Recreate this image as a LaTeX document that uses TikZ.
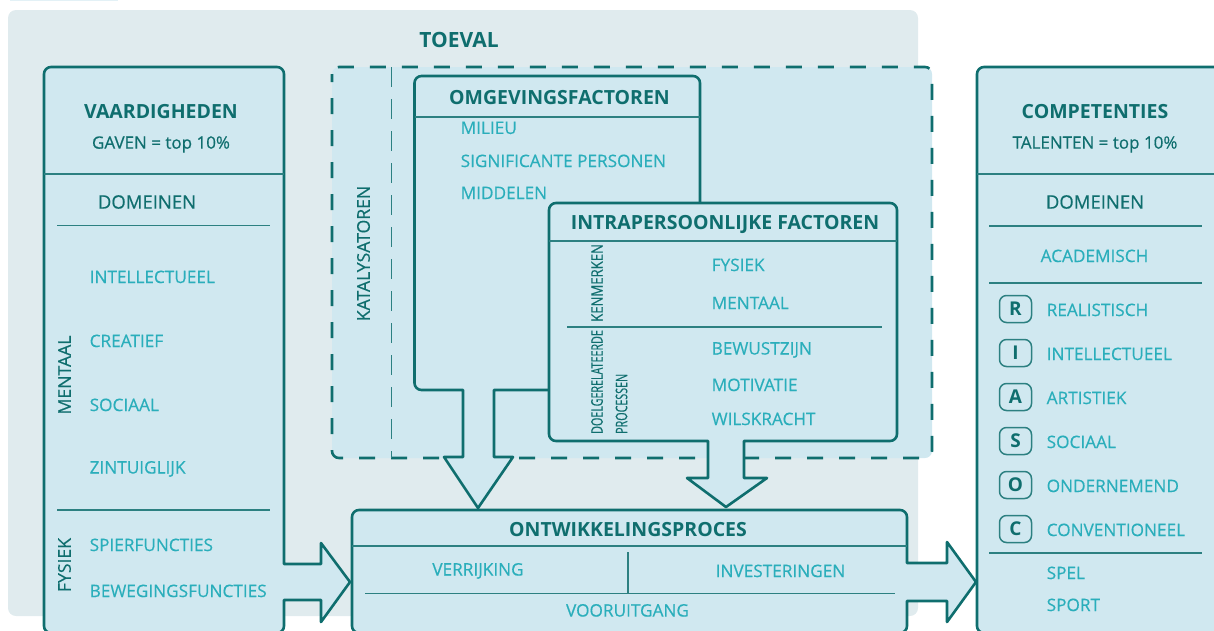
\documentclass[tikz,border=0pt]{standalone}
\usepackage{fontspec}
\setmainfont{Open Sans}
\newfontfamily\medf[FakeBold=0.4]{Open Sans}
\definecolor{bggrey}{HTML}{E0EBEE}
\definecolor{panel}{HTML}{D0E8F0}
\definecolor{dark}{HTML}{0F6E6E}
\definecolor{lite}{HTML}{2AAEBB}
\tikzset{
  box/.style={draw=dark,line width=2.6pt,fill=panel,line join=round},
  rc/.style={rounded corners=7pt},
  rule/.style={draw=dark!85!panel,line width=1.4pt},
  hd/.style={text=dark,font=\bfseries\fontsize{19.5}{22}\selectfont,inner sep=0pt,anchor=center,yshift=-1pt},
  sub/.style={text=dark,font=\medf\fontsize{17}{20}\selectfont,inner sep=0pt,anchor=center,yshift=-0.5pt},
  dom/.style={text=dark,font=\medf\fontsize{18.5}{20}\selectfont,inner sep=0pt,anchor=center},
  item/.style={text=lite,font=\medf\fontsize{17.2}{20}\selectfont,inner sep=0pt,anchor=west,yshift=0.6pt,xshift=-0.5pt},
  vert/.style={text=dark,font=\medf\fontsize{17.6}{20}\selectfont,inner sep=0pt,rotate=90,anchor=center},
  vertw/.style={text=dark,font=\medf\fontsize{16}{18}\selectfont,inner sep=0pt,rotate=90,anchor=west},
  badge/.style={draw=dark!85!panel,line width=1.5pt,rounded corners=7pt,minimum width=32pt,minimum height=27pt,inner sep=0pt,text=dark,font=\bfseries\fontsize{19}{20}\selectfont,anchor=center},
}
\begin{document}
\begin{tikzpicture}[x=1pt,y=-1pt]
\useasboundingbox (0,0) rectangle (1214,630);
\clip (0,0) rectangle (1214,630);
% background
\fill[panel!60!white] (10,-3) rectangle (118,1);
\fill[bggrey,rounded corners=8pt] (8,10) rectangle (918,616);
\node[hd,font=\bfseries\fontsize{21}{24}\selectfont] (toeval) at (459,38.5) {TOEVAL};
% catalyst region
\fill[panel,rounded corners=7pt] (332,67) rectangle (932,458);
\draw[dark,line width=2.6pt,dash pattern=on 16pt off 16pt,dash phase=8pt,rounded corners=7pt] (332,67) rectangle (932,458);
\draw[dark!85!panel,line width=1.2pt,dash pattern=on 20pt off 12pt] (391.5,67) -- (391.5,458);
\node[vert] (katal) at (363.5,253.5) {KATALYSATOREN};
% left box
\draw[box] (284,564) -- (321,564) -- (321,543) -- (350,582) -- (321,622) -- (321,600) -- (284,600) [rc] -- (284,633) -- (44,633) -- (44,67) -- (284,67) [sharp corners] -- cycle;
\draw[rule] (44,174) -- (284,174);
\draw[rule] (57,225.5) -- (270,225.5);
\draw[rule] (57,510) -- (270,510);
\node[hd] (vaard) at (161,111) {VAARDIGHEDEN};
\node[sub] (gaven) at (161,144) {GAVEN = top 10\%};
\node[dom] (domL) at (147,202) {DOMEINEN};
\node[item] (li1) at (90,277.5) {INTELLECTUEEL};
\node[item] (li2) at (90,341.5) {CREATIEF};
\node[item] (li3) at (90,405.5) {SOCIAAL};
\node[item] (li4) at (90,469.5) {ZINTUIGLIJK};
\node[item] (li5) at (90,545.5) {SPIERFUNCTIES};
\node[item] (li6) at (90,591.5) {BEWEGINGSFUNCTIES};
\node[vert] (mentaalL) at (64.5,375) {MENTAAL};
\node[vert] (fysiekL) at (64.5,565) {FYSIEK};
% omgevingsfactoren
\draw[box] (700,210) [rc] -- (700,76) -- (414.5,76) -- (414.5,390) [sharp corners] -- (463,390) -- (463,457) -- (444,457) -- (478,508) -- (513,457) -- (494,457) -- (494,390) -- (560,390);
\draw[rule] (414.5,117) -- (700,117);
\node[hd] (omg) at (559.5,97) {OMGEVINGSFACTOREN};
\node[item] (om1) at (461,128.5) {MILIEU};
\node[item] (om2) at (461,161.5) {SIGNIFICANTE PERSONEN};
\node[item] (om3) at (461,193.5) {MIDDELEN};
% intrapersoonlijk
\draw[box] (708,441) -- (708,478) -- (687,478) -- (726,507) -- (767,478) -- (744,478) -- (744,441) [rc] -- (897,441) -- (897,203) -- (549,203) -- (549,441) [sharp corners] -- cycle;
\draw[rule] (549,241) -- (897,241);
\draw[rule] (567,327) -- (882,327);
\node[hd] (intra) at (725,223) {INTRAPERSOONLIJKE FACTOREN};
\node[item] (in1) at (712,265.5) {FYSIEK};
\node[item] (in2) at (712,303.5) {MENTAAL};
\node[item] (in3) at (712,350.5) {BEWUSTZIJN};
\node[item] (in4) at (712,385.5) {MOTIVATIE};
\node[item] (in5) at (712,419.5) {WILSKRACHT};
\node[vertw] (ken) at (597,322) {\scalebox{0.82}[1]{KENMERKEN}};
\node[vertw] (doel) at (597,434) {\scalebox{0.67}[1]{DOELGERELATEERDE}};
\node[vertw] (proc) at (621.5,434) {\scalebox{0.67}[1]{PROCESSEN}};
% ontwikkelingsproces
\draw[box] (907,563) -- (947,563) -- (947,542) -- (976,582) -- (947,622) -- (947,601) -- (907,601) [rc] -- (907,633) -- (352,633) -- (352,510) -- (907,510) [sharp corners] -- cycle;
\draw[rule] (352,546) -- (907,546);
\draw[rule] (628,552) -- (628,593.5);
\draw[rule] (365,593.5) -- (895,593.5);
\node[hd] (ontw) at (628,529) {ONTWIKKELINGSPROCES};
\node[item,anchor=center] (verr) at (478.5,571.5) {VERRIJKING};
\node[item,anchor=center] (inv) at (781,571.5) {INVESTERINGEN};
\node[item,anchor=center] (voor) at (628,611) {VOORUITGANG};
% right box
\draw[box,rc] (977,67) rectangle (1240,633);
\draw[rule] (977,174) -- (1240,174);
\draw[rule] (989,226) -- (1202,226);
\draw[rule] (989,283) -- (1202,283);
\draw[rule] (989,553) -- (1202,553);
\node[hd] (comp) at (1095,111) {COMPETENTIES};
\node[sub] (tal) at (1095,144) {TALENTEN = top 10\%};
\node[dom] (domR) at (1095,202) {DOMEINEN};
\node[item,anchor=center] (acad) at (1095,256.5) {ACADEMISCH};
\node[badge] (bR) at (1015.5,309) {R};
\node[badge] (bI) at (1015.5,353) {I};
\node[badge] (bA) at (1015.5,397) {A};
\node[badge] (bS) at (1015.5,441) {S};
\node[badge] (bO) at (1015.5,485) {O};
\node[badge] (bC) at (1015.5,529) {C};
\node[item] (r1) at (1047,310.5) {REALISTISCH};
\node[item] (r2) at (1047,354.5) {INTELLECTUEEL};
\node[item] (r3) at (1047,398.5) {ARTISTIEK};
\node[item] (r4) at (1047,442.5) {SOCIAAL};
\node[item] (r5) at (1047,486.5) {ONDERNEMEND};
\node[item] (r6) at (1047,530.5) {CONVENTIONEEL};
\node[item] (r7) at (1047,573.5) {SPEL};
\node[item] (r8) at (1047,605.5) {SPORT};
\end{tikzpicture}
\end{document}
